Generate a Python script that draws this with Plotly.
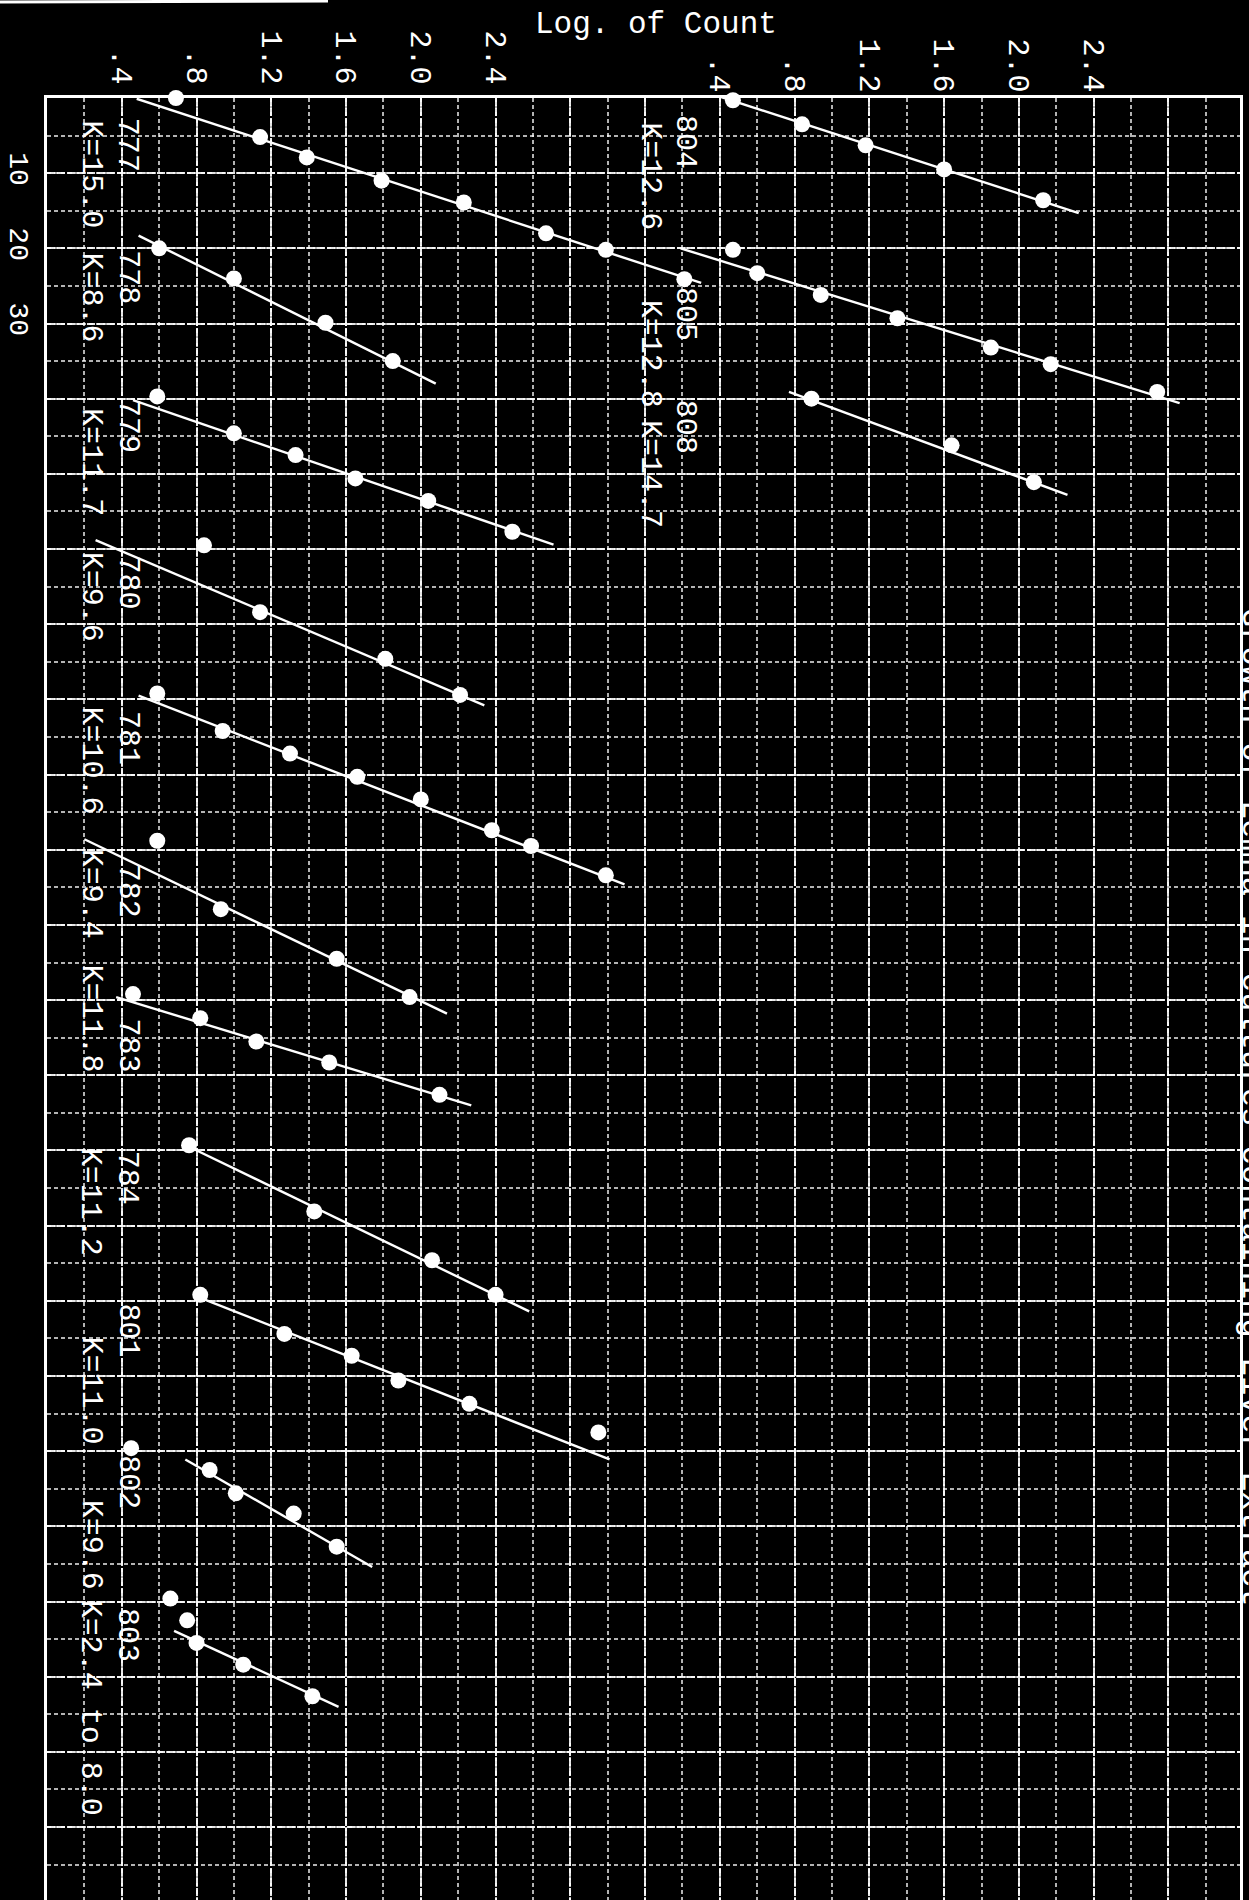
import numpy as np
import plotly.graph_objects as go

# ---------------- data ----------------
# x = log. of count, y = time (hours); left panel uses axis x, right panel axis x2
c777_time = [0.0, 5.2, 7.9, 11.0, 13.9, 18.0, 20.2, 24.1]
c777_logc = [0.69, 1.14, 1.39, 1.79, 2.23, 2.67, 2.99, 3.41]
c777_fit_time = [0.1, 24.6]
c777_fit_logc = [0.48, 3.50]

c778_time = [20.0, 24.0, 29.9, 35.0]
c778_logc = [0.60, 1.00, 1.49, 1.85]
c778_fit_time = [18.3, 38.0]
c778_fit_logc = [0.49, 2.08]

c779_time = [39.7, 44.6, 47.5, 50.6, 53.6, 57.7]
c779_logc = [0.59, 1.00, 1.33, 1.65, 2.04, 2.49]
c779_fit_time = [40.2, 59.4]
c779_fit_logc = [0.46, 2.71]

c780_time = [59.5, 68.4, 74.6, 79.4]
c780_logc = [0.84, 1.14, 1.81, 2.21]
c780_fit_time = [58.8, 80.8]
c780_fit_logc = [0.26, 2.34]

c781_time = [79.2, 84.2, 87.2, 90.3, 93.3, 97.4, 99.5, 103.4]
c781_logc = [0.59, 0.94, 1.30, 1.66, 2.00, 2.38, 2.59, 2.99]
c781_fit_time = [79.5, 104.6]
c781_fit_logc = [0.49, 3.09]

c782_time = [98.8, 107.9, 114.5, 119.6]
c782_logc = [0.59, 0.93, 1.55, 1.94]
c782_fit_time = [98.6, 121.8]
c782_fit_logc = [0.20, 2.14]

c783_time = [119.2, 122.4, 125.5, 128.3, 132.6]
c783_logc = [0.46, 0.82, 1.12, 1.51, 2.10]
c783_fit_time = [119.6, 134.0]
c783_fit_logc = [0.37, 2.27]

c784_time = [139.3, 148.1, 154.6, 159.2]
c784_logc = [0.76, 1.43, 2.06, 2.40]
c784_fit_time = [139.5, 161.4]
c784_fit_logc = [0.76, 2.58]

c801_time = [159.2, 164.4, 167.3, 170.6, 173.7, 177.5]
c801_logc = [0.82, 1.27, 1.63, 1.88, 2.26, 2.95]
c801_fit_time = [159.4, 181.1]
c801_fit_logc = [0.80, 3.01]

c802_time = [179.6, 182.5, 185.6, 188.3, 192.7]
c802_logc = [0.45, 0.87, 1.01, 1.32, 1.55]
c802_fit_time = [181.1, 195.4]
c802_fit_logc = [0.74, 1.74]

c803_time = [199.6, 202.5, 205.5, 208.4, 212.6]
c803_logc = [0.66, 0.75, 0.80, 1.05, 1.42]
c803_fit_time = [203.9, 214.0]
c803_fit_logc = [0.68, 1.56]

c804_time = [0.3, 3.5, 6.3, 9.5, 13.6]
c804_logc = [0.47, 0.84, 1.18, 1.60, 2.13]
c804_fit_time = [-0.5, 15.3]
c804_fit_logc = [0.36, 2.32]

c805_time = [20.2, 23.3, 26.2, 29.3, 33.2, 35.4, 39.1]
c805_logc = [0.47, 0.60, 0.94, 1.35, 1.85, 2.17, 2.74]
c805_fit_time = [20.0, 40.6]
c805_fit_logc = [0.19, 2.86]

c808_time = [40.0, 46.2, 51.1]
c808_logc = [0.89, 1.64, 2.08]
c808_fit_time = [39.1, 52.8]
c808_fit_logc = [0.77, 2.26]

left_ids = ["777", "778", "779", "780", "781", "782", "783", "784", "801", "802", "803"]
left_k = ["K=15.0", "K=8.6", "K=11.7", "K=9.6", "K=10.6", "K=9.4", "K=11.8",
          "K=11.2", "K=11.0", "K=9.6", "K=2.4 to 8.0"]
right_ids = ["804", "805", "808"]
right_k = ["K=12.6", "K=12.8", "K=14.7"]

log_tick_vals = [0.4, 0.8, 1.2, 1.6, 2.0, 2.4]
log_tick_text = [".4", ".8", "1.2", "1.6", "2.0", "2.4"]
time_tick_vals = [10, 20, 30]
time_tick_text = ["10", "20", "30"]

axis_title = "Log. of Count"
chart_title = "Growth of Lemna in cultures containing Liver Extract"

# ---------------- layout / style ----------------
W, H = 1249, 1900
ML, MR, MT, MB = 47, 9, 98, 0
PW, PH = W - ML - MR, H - MT - MB
X_RANGE = [0.0, 6.383]
RIGHT_SHIFT = 3.2
T_RANGE = [239.7, 0.0]
FONT = "Liberation Mono, Courier New, monospace"
WHITE = "white"

def px_x(px):
    return (px - ML) / PW

def px_y(py):
    return 1 - (py - MT) / PH

# label positions (x in panel units, y in time units)
left_id_x, left_k_x = 0.432, 0.234
left_id_t = [6.2, 23.8, 43.6, 64.4, 85.1, 105.4, 126.0, 143.6, 163.9, 184.1, 204.4]
left_k_t = [10.1, 26.5, 48.4, 66.3, 88.1, 105.8, 122.4, 146.8, 171.9, 192.4, 214.1]
right_id_x, right_k_x = 0.217, 0.026
right_id_t = [5.8, 28.7, 43.7]
right_k_t = [10.4, 34.0, 50.0]

left_series = [
    (c777_time, c777_logc, c777_fit_time, c777_fit_logc),
    (c778_time, c778_logc, c778_fit_time, c778_fit_logc),
    (c779_time, c779_logc, c779_fit_time, c779_fit_logc),
    (c780_time, c780_logc, c780_fit_time, c780_fit_logc),
    (c781_time, c781_logc, c781_fit_time, c781_fit_logc),
    (c782_time, c782_logc, c782_fit_time, c782_fit_logc),
    (c783_time, c783_logc, c783_fit_time, c783_fit_logc),
    (c784_time, c784_logc, c784_fit_time, c784_fit_logc),
    (c801_time, c801_logc, c801_fit_time, c801_fit_logc),
    (c802_time, c802_logc, c802_fit_time, c802_fit_logc),
    (c803_time, c803_logc, c803_fit_time, c803_fit_logc),
]
right_series = [
    (c804_time, c804_logc, c804_fit_time, c804_fit_logc),
    (c805_time, c805_logc, c805_fit_time, c805_fit_logc),
    (c808_time, c808_logc, c808_fit_time, c808_fit_logc),
]

fig = go.Figure()

def add_series(name, s, xaxis):
    t, v, ft, fv = s
    fig.add_trace(go.Scatter(x=fv, y=ft, mode="lines", xaxis=xaxis, yaxis="y",
                             line=dict(color=WHITE, width=2.4), name=name,
                             hoverinfo="skip"))
    fig.add_trace(go.Scatter(x=v, y=t, mode="markers", xaxis=xaxis, yaxis="y",
                             marker=dict(color=WHITE, size=16, line=dict(width=0)),
                             cliponaxis=False, name=name))

for name, s in zip(left_ids, left_series):
    add_series(name, s, "x")
for name, s in zip(right_ids, right_series):
    add_series(name, s, "x2")

annotations = []
def rot_label(text, x, y, xref):
    annotations.append(dict(text=text, x=x, y=y, xref=xref, yref="y",
                            showarrow=False, textangle=90, xanchor="center",
                            yanchor="middle", font=dict(size=30, color=WHITE, family=FONT)))

for txt, t in zip(left_ids, left_id_t):
    rot_label(txt, left_id_x, t, "x")
for txt, t in zip(left_k, left_k_t):
    rot_label(txt, left_k_x, t, "x")
for txt, t in zip(right_ids, right_id_t):
    rot_label(txt, right_id_x, t, "x2")
for txt, t in zip(right_k, right_k_t):
    rot_label(txt, right_k_x, t, "x2")

annotations.append(dict(text=axis_title, x=px_x(656), y=px_y(25), xref="paper", yref="paper",
                        showarrow=False, xanchor="center", yanchor="middle",
                        font=dict(size=31, color=WHITE, family=FONT)))
annotations.append(dict(text=chart_title, x=px_x(1252), y=px_y(1107), xref="paper", yref="paper",
                        showarrow=False, textangle=90, xanchor="center", yanchor="middle",
                        font=dict(size=32, color=WHITE, family=FONT)))

grid_major_x = list(np.round(np.arange(0, 6.41, 0.4), 2))
grid_text_x = [log_tick_text[log_tick_vals.index(g)] if g in log_tick_vals else "" for g in grid_major_x]
grid_major_t = list(range(0, 240, 10))
grid_text_t = [time_tick_text[time_tick_vals.index(g)] if g in time_tick_vals else "" for g in grid_major_t]

major_grid = dict(showgrid=True, gridcolor="rgba(255,255,255,0.9)", gridwidth=2, griddash="8px,2px")
minor_grid = dict(showgrid=True, gridcolor="rgba(255,255,255,0.7)", gridwidth=1.5, griddash="4px,3px")

fig.update_layout(
    width=W, height=H,
    margin=dict(l=ML, r=MR, t=MT, b=MB, pad=0),
    paper_bgcolor="black", plot_bgcolor="black",
    showlegend=False,
    font=dict(family=FONT, color=WHITE, size=30),
    xaxis=dict(range=X_RANGE, side="top", tickmode="array", tickvals=grid_major_x,
               ticktext=grid_text_x, tickangle=90, ticks="", zeroline=False,
               showline=True, linecolor=WHITE, linewidth=3,
               tickfont=dict(size=30, family=FONT, color=WHITE),
               minor=dict(tick0=0, dtick=0.2, **minor_grid), **major_grid),
    xaxis2=dict(range=[X_RANGE[0] - RIGHT_SHIFT, X_RANGE[1] - RIGHT_SHIFT], overlaying="x",
                side="top", anchor="y", tickmode="array", tickvals=log_tick_vals,
                ticktext=log_tick_text, tickangle=90, ticks="", showgrid=False,
                zeroline=False, showline=False,
                tickfont=dict(size=30, family=FONT, color=WHITE)),
    yaxis=dict(range=T_RANGE, tickmode="array", tickvals=grid_major_t, ticktext=grid_text_t,
               tickangle=90, ticks="", zeroline=False, showline=True, mirror=True,
               linecolor=WHITE, linewidth=3,
               tickfont=dict(size=28, family=FONT, color=WHITE),
               minor=dict(tick0=0, dtick=5, **minor_grid), **major_grid),
    annotations=annotations,
    shapes=[dict(type="line", xref="paper", yref="paper", x0=px_x(0), x1=px_x(328),
                 y0=px_y(2), y1=px_y(1), line=dict(color=WHITE, width=3))],
)

fig.write_html("out.html", config={"displayModeBar": False},
               post_script="document.body.style.margin='0px';document.body.style.overflow='hidden';")
